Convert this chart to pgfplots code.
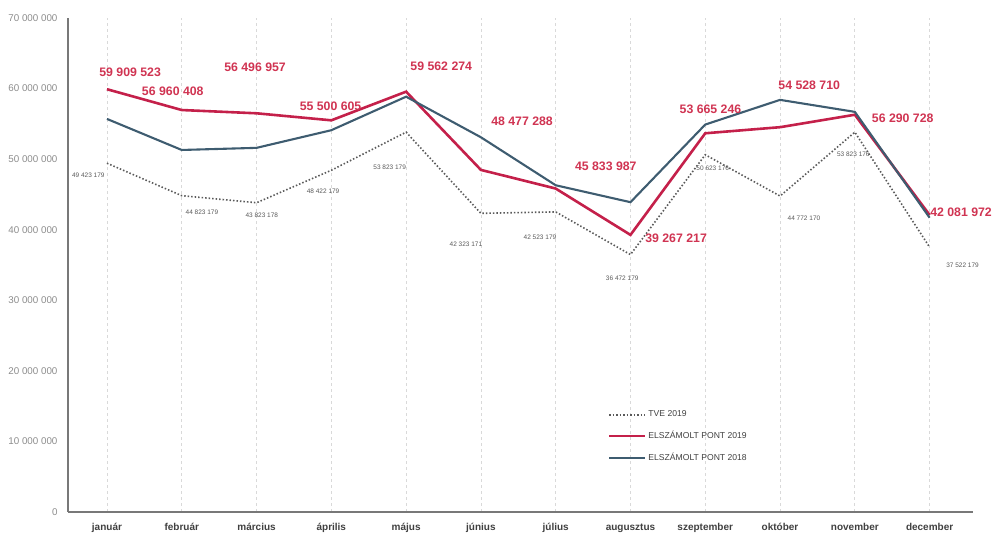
\documentclass[border=0pt]{standalone}
\usepackage{pgfplots}
\pgfplotsset{compat=1.18}
\usepackage{fontspec}
\setmainfont{Liberation Sans}
\definecolor{redline}{RGB}{196,32,74}
\definecolor{redlab}{RGB}{208,52,82}
\definecolor{blueline}{RGB}{62,92,112}
\definecolor{dotline}{RGB}{90,90,90}
\definecolor{axgray}{RGB}{120,120,120}
\begin{document}
\begin{tikzpicture}
\path[use as bounding box] (-68pt,-21pt) rectangle (926pt,512pt);
\begin{axis}[
  scale only axis, width=905pt, height=494pt,
  at={(0,0)}, anchor=south west,
  xmin=-0.521, xmax=11.58, ymin=0, ymax=7e7,
  axis lines*=left,
  axis line style={axgray, line width=1.2pt},
  clip=false,
  xtick={0,...,11},
  xticklabels={január,február,március,április,május,június,július,augusztus,szeptember,október,november,december},
  xticklabel style={font=\fontsize{10}{12}\selectfont\bfseries, text=black!75, yshift=-8pt},
  ytick={0,1e7,2e7,3e7,4e7,5e7,6e7,7e7},
  yticklabels={0,10 000 000,20 000 000,30 000 000,40 000 000,50 000 000,60 000 000,70 000 000},
  yticklabel style={font=\fontsize{9.8}{11}\selectfont, text=black!45, xshift=-7pt},
  scaled y ticks=false,
  major tick length=0pt,
  xmajorgrids,
  grid style={black!15, dashed, line width=0.8pt},
  legend style={draw=none, fill=none, at={(0.593,0.213)}, anchor=north west,
    font=\fontsize{8.6}{10}\selectfont, text=black!75, row sep=9pt},
  legend cell align=left,
  legend image code/.code={\draw[#1] (0pt,0pt) -- (36pt,0pt);},
]
% TVE 2019
\addplot[dotline, line width=1.6pt, dash pattern=on 1.5pt off 2pt] coordinates {
(0,49423179) (1,44823179) (2,43823178) (3,48422179) (4,53823179) (5,42323171)
(6,42523179) (7,36472179) (8,50623176) (9,44772170) (10,53823176) (11,37522179)};
\addlegendentry{TVE 2019}
% ELSZAMOLT PONT 2019
\addplot[redline, line width=2.6pt] coordinates {
(0,59909523) (1,56960408) (2,56496957) (3,55500605) (4,59562274) (5,48477288)
(6,45833987) (7,39267217) (8,53665246) (9,54528710) (10,56290728) (11,42081972)};
\addlegendentry{ELSZÁMOLT PONT 2019}
% ELSZAMOLT PONT 2018
\addplot[blueline, line width=2.1pt] coordinates {
(0,55700000) (1,51300000) (2,51600000) (3,54100000) (4,58850000) (5,53100000)
(6,46300000) (7,43900000) (8,54900000) (9,58400000) (10,56700000) (11,41700000)};
\addlegendentry{ELSZÁMOLT PONT 2018}
% red value labels
\addplot[draw=none, mark=none, forget plot, point meta=explicit symbolic,
  nodes near coords,
  every node near coord/.append style={anchor=center, inner sep=0pt,
    font=\fontsize{12.3}{14}\selectfont\bfseries, text=redlab}] coordinates {
(0.31,62350000) [59 909 523]
(0.88,59660000) [56 960 408]
(1.98,63060000) [56 496 957]
(2.99,57530000) [55 500 605]
(4.47,63200000) [59 562 274]
(5.55,55400000) [48 477 288]
(6.67,49030000) [45 833 987]
(7.61,38830000) [39 267 217]
(8.07,57100000) [53 665 246]
(9.39,60500000) [54 528 710]
(10.64,55830000) [56 290 728]
(11.42,42510000) [42 081 972]};
% TVE value labels
\addplot[draw=none, mark=none, forget plot, point meta=explicit symbolic,
  nodes near coords,
  every node near coord/.append style={anchor=center, inner sep=0pt,
    font=\fontsize{6.5}{8}\selectfont, text=black!65}] coordinates {
(-0.25,47750000) [49 423 179]
(1.27,42510000) [44 823 179]
(2.07,42090000) [43 823 178]
(2.89,45490000) [48 422 179]
(3.78,48890000) [53 823 179]
(4.80,38000000) [42 323 171]
(5.79,38970000) [42 523 179]
(6.89,33160000) [36 472 179]
(8.10,48750000) [50 623 176]
(9.32,41650000) [44 772 170]
(9.98,50730000) [53 823 176]
(11.44,35000000) [37 522 179]};
\end{axis}
\end{tikzpicture}
\end{document}
